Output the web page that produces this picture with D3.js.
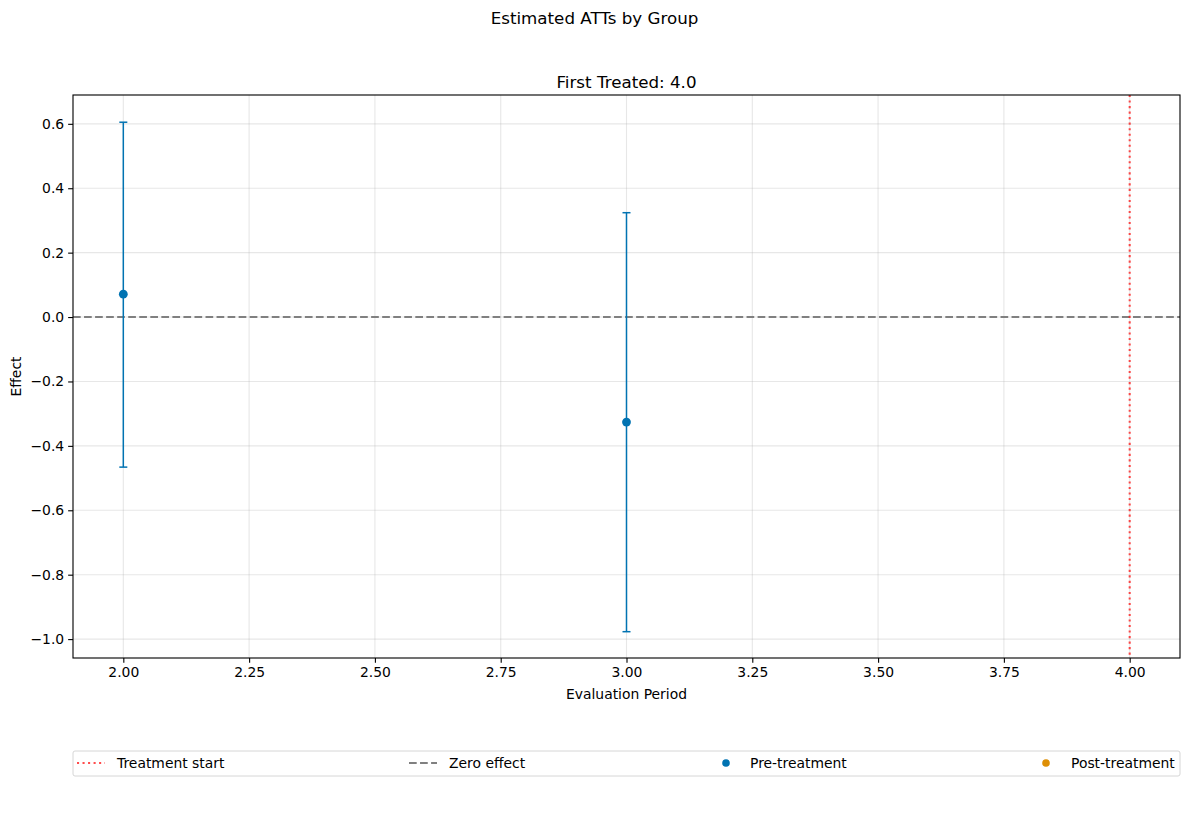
<!DOCTYPE html>
<html>
<head>
<meta charset="utf-8">
<script src="https://cdn.jsdelivr.net/npm/d3@7"></script>
<style>
  body { margin: 0; background: #fff; }
  svg { font-family: "DejaVu Sans", sans-serif; }
</style>
</head>
<body>
<svg id="chart"></svg>
<script>
// data
var periods = [2, 3];
var effects = [0.071, -0.326];
var lowerCI = [-0.466, -0.977];
var upperCI = [0.605, 0.324];
var treatStart = 4;
var xTicks = [2.00, 2.25, 2.50, 2.75, 3.00, 3.25, 3.50, 3.75, 4.00];
var yTicks = [-1.0, -0.8, -0.6, -0.4, -0.2, 0.0, 0.2, 0.4, 0.6];
var legendLabels = ["Treatment start", "Zero effect", "Pre-treatment", "Post-treatment"];

var width = 1189, height = 820;
var margins = {top: 95, right: 9, bottom: 162, left: 73};
var blue = "#0173b2", orange = "#de8f05";
var pt = 100 / 72; // points to px

var svg = d3.select("#chart")
  .attr("width", width)
  .attr("height", height);

var x = d3.scaleLinear()
  .domain([1.9, 4.1])
  .range([margins.left, width - margins.right]);

var y = d3.scaleLinear()
  .domain([-1.0587, 0.6895])
  .range([height - margins.bottom, margins.top]);

var fmtMinus = function(s){ return s.replace("-", "\u2212"); };

// grid
svg.append("g")
  .selectAll("line.vg")
  .data(xTicks)
  .enter()
  .append("line")
  .attr("x1", function(d){ return x(d); })
  .attr("x2", function(d){ return x(d); })
  .attr("y1", margins.top)
  .attr("y2", height - margins.bottom)
  .attr("stroke", "#b0b0b0")
  .attr("stroke-opacity", 0.3)
  .attr("stroke-width", 0.8 * pt);

svg.append("g")
  .selectAll("line.hg")
  .data(yTicks)
  .enter()
  .append("line")
  .attr("y1", function(d){ return y(d); })
  .attr("y2", function(d){ return y(d); })
  .attr("x1", margins.left)
  .attr("x2", width - margins.right)
  .attr("stroke", "#b0b0b0")
  .attr("stroke-opacity", 0.3)
  .attr("stroke-width", 0.8 * pt);

var dashed = (5.55 * pt) + "," + (2.4 * pt);
var dotted = (1.5 * pt) + "," + (2.475 * pt);

// zero line
svg.append("line")
  .attr("x1", margins.left)
  .attr("x2", width - margins.right)
  .attr("y1", y(0))
  .attr("y2", y(0))
  .attr("stroke", "#808080")
  .attr("stroke-width", 1.5 * pt)
  .attr("stroke-dasharray", dashed);

// treatment start line
svg.append("line")
  .attr("x1", x(treatStart))
  .attr("x2", x(treatStart))
  .attr("y1", margins.top)
  .attr("y2", height - margins.bottom)
  .attr("stroke", "red")
  .attr("stroke-opacity", 0.7)
  .attr("stroke-width", 1.5 * pt)
  .attr("stroke-dasharray", dotted);

// error bars
var pts = periods.map(function(p, i){
  return {x: p, y: effects[i], lo: lowerCI[i], hi: upperCI[i]};
});

var eb = svg.append("g").selectAll("g").data(pts).enter().append("g");
eb.append("line")
  .attr("x1", function(d){ return x(d.x); })
  .attr("x2", function(d){ return x(d.x); })
  .attr("y1", function(d){ return y(d.lo); })
  .attr("y2", function(d){ return y(d.hi); })
  .attr("stroke", blue)
  .attr("stroke-width", 1.5);
["lo", "hi"].forEach(function(k){
  eb.append("line")
    .attr("x1", function(d){ return x(d.x) - 4; })
    .attr("x2", function(d){ return x(d.x) + 4; })
    .attr("y1", function(d){ return y(d[k]); })
    .attr("y2", function(d){ return y(d[k]); })
    .attr("stroke", blue)
    .attr("stroke-width", 1.5);
});
eb.append("circle")
  .attr("cx", function(d){ return x(d.x); })
  .attr("cy", function(d){ return y(d.y); })
  .attr("r", 4.4)
  .attr("fill", blue);

// axes
var xAxis = svg.append("g")
  .attr("transform", "translate(0," + (height - margins.bottom) + ")")
  .call(d3.axisBottom(x).tickValues(xTicks).tickFormat(d3.format(".2f")).tickSize(3.5 * pt).tickPadding(4));
var yAxis = svg.append("g")
  .attr("transform", "translate(" + margins.left + ",0)")
  .call(d3.axisLeft(y).tickValues(yTicks).tickFormat(function(d){ return fmtMinus(d3.format(".1f")(d)); }).tickSize(3.5 * pt).tickPadding(4));
[xAxis, yAxis].forEach(function(a){
  a.select(".domain").remove();
  a.selectAll("text").attr("font-size", 13.9).attr("fill", "#000").attr("font-family", "DejaVu Sans");
  a.selectAll("line").attr("stroke", "#000").attr("stroke-width", 0.8 * pt);
});

// frame
svg.append("rect")
  .attr("x", margins.left)
  .attr("y", margins.top)
  .attr("width", width - margins.right - margins.left)
  .attr("height", height - margins.bottom - margins.top)
  .attr("fill", "none")
  .attr("stroke", "#000")
  .attr("stroke-width", 0.8 * pt);

// titles
svg.append("text")
  .attr("x", width / 2).attr("y", 24)
  .attr("text-anchor", "middle").attr("font-size", 16.7)
  .text("Estimated ATTs by Group");
svg.append("text")
  .attr("x", (margins.left + width - margins.right) / 2).attr("y", 88)
  .attr("text-anchor", "middle").attr("font-size", 16.7)
  .text("First Treated: 4.0");
svg.append("text")
  .attr("x", (margins.left + width - margins.right) / 2).attr("y", 699)
  .attr("text-anchor", "middle").attr("font-size", 13.9)
  .text("Evaluation Period");
svg.append("text")
  .attr("transform", "translate(21," + ((margins.top + height - margins.bottom) / 2) + ") rotate(-90)")
  .attr("text-anchor", "middle").attr("font-size", 13.9)
  .text("Effect");

// legend
var lg = svg.append("g");
lg.append("rect")
  .attr("x", margins.left).attr("y", 751)
  .attr("width", width - margins.right - margins.left).attr("height", 25)
  .attr("rx", 2)
  .attr("fill", "#fff").attr("stroke", "#d6d6d6").attr("stroke-width", 1);

var colX = [77, 409, 716, 1036];
var ly = 763;
lg.append("line").attr("x1", colX[0]).attr("x2", colX[0] + 28).attr("y1", ly).attr("y2", ly)
  .attr("stroke", "red").attr("stroke-opacity", 0.7).attr("stroke-width", 1.5 * pt).attr("stroke-dasharray", dotted);
lg.append("line").attr("x1", colX[1]).attr("x2", colX[1] + 28).attr("y1", ly).attr("y2", ly)
  .attr("stroke", "#808080").attr("stroke-width", 1.5 * pt).attr("stroke-dasharray", dashed);
lg.append("circle").attr("cx", colX[2] + 10).attr("cy", ly).attr("r", 3.8).attr("fill", blue);
lg.append("circle").attr("cx", colX[3] + 10).attr("cy", ly).attr("r", 3.8).attr("fill", orange);

lg.selectAll("text.lab")
  .data(legendLabels)
  .enter()
  .append("text")
  .attr("x", function(d, i){ return [117, 449, 750, 1071][i]; })
  .attr("y", ly + 5)
  .attr("font-size", 13.9)
  .text(function(d){ return d; });
</script>
</body>
</html>
